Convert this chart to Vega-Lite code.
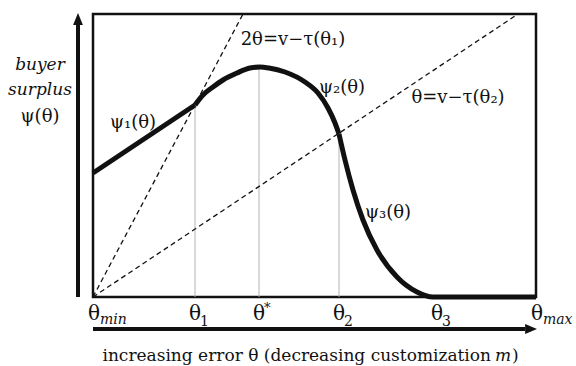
{
  "$schema": "https://vega.github.io/schema/vega-lite/v6.json",
  "width": 443,
  "height": 283,
  "autosize": {"type": "none"},
  "padding": {"left": 93, "top": 14, "right": 40, "bottom": 69},
  "background": "white",
  "config": {"view": {"stroke": "#111", "strokeWidth": 2.5}, "text": {"font": "DejaVu Serif", "color": "#111"}},
  "datasets": {
    "vlines": [
      {"name": "θ1", "x": 102, "y": 0, "y2": 192},
      {"name": "θ*", "x": 166, "y": 0, "y2": 230},
      {"name": "θ2", "x": 246, "y": 0, "y2": 163}
    ],
    "dashes": [
      {"name": "2θ=v−τ(θ1)", "x": 0, "y": 0, "x2": 150, "y2": 283},
      {"name": "θ=v−τ(θ2)", "x": 0, "y": 0, "x2": 425, "y2": 283}
    ],
    "curve": [
      {"seg": "ψ1", "x": 0, "y": 124},
      {"seg": "ψ1", "x": 102, "y": 192},
      {"seg": "ψ2", "x": 102, "y": 192},
      {"seg": "ψ2", "x": 110, "y": 202},
      {"seg": "ψ2", "x": 120, "y": 210},
      {"seg": "ψ2", "x": 130, "y": 217},
      {"seg": "ψ2", "x": 144, "y": 224},
      {"seg": "ψ2", "x": 157, "y": 229},
      {"seg": "ψ2", "x": 167, "y": 230},
      {"seg": "ψ2", "x": 176, "y": 229},
      {"seg": "ψ2", "x": 192, "y": 225},
      {"seg": "ψ2", "x": 212, "y": 215},
      {"seg": "ψ2", "x": 225, "y": 204},
      {"seg": "ψ2", "x": 235, "y": 189},
      {"seg": "ψ2", "x": 242, "y": 174},
      {"seg": "ψ2", "x": 246, "y": 163},
      {"seg": "ψ3", "x": 246, "y": 163},
      {"seg": "ψ3", "x": 252, "y": 137},
      {"seg": "ψ3", "x": 260, "y": 107},
      {"seg": "ψ3", "x": 270, "y": 77},
      {"seg": "ψ3", "x": 284, "y": 47},
      {"seg": "ψ3", "x": 304, "y": 20},
      {"seg": "ψ3", "x": 324, "y": 5},
      {"seg": "ψ3", "x": 340, "y": 0},
      {"seg": "ψ3", "x": 443, "y": 0}
    ],
    "shafts": [
      {"axis": "y", "x": -15, "y": 0, "x2": -15, "y2": 274},
      {"axis": "x", "x": 0, "y": -32, "x2": 432, "y2": -32}
    ],
    "heads": [
      {"dir": "up", "x": -15, "y": 277},
      {"dir": "right", "x": 437, "y": -32}
    ],
    "ticks": [
      {"base": "θ", "sub": "min", "kind": "it", "x": 1, "y": -23},
      {"base": "θ", "sub": "1", "kind": "num", "x": 102, "y": -23},
      {"base": "θ", "sub": "*", "kind": "sup", "x": 166, "y": -23},
      {"base": "θ", "sub": "2", "kind": "num", "x": 246, "y": -23},
      {"base": "θ", "sub": "3", "kind": "num", "x": 344, "y": -23},
      {"base": "θ", "sub": "max", "kind": "it", "x": 444, "y": -23}
    ],
    "labels": [
      {"text": "2θ=v−τ(θ₁)", "x": 200, "y": 252},
      {"text": "ψ₁(θ)", "x": 40, "y": 169},
      {"text": "ψ₂(θ)", "x": 249, "y": 204},
      {"text": "θ=v−τ(θ₂)", "x": 365, "y": 194},
      {"text": "ψ₃(θ)", "x": 295, "y": 79},
      {"text": "ψ(θ)", "x": -53, "y": 175}
    ],
    "italics": [
      {"text": "buyer", "x": -53, "y": 227},
      {"text": "surplus", "x": -53, "y": 202}
    ],
    "title": [
      {"text": "increasing error θ (decreasing customization", "m": "m", "close": ")", "x": 398, "y": -64}
    ]
  },
  "encoding": {
    "x": {"field": "x", "type": "quantitative", "scale": {"domain": [0, 443], "nice": false, "zero": false}, "axis": null},
    "y": {"field": "y", "type": "quantitative", "scale": {"domain": [0, 283], "nice": false, "zero": false}, "axis": null}
  },
  "layer": [
    {"data": {"name": "vlines"}, "mark": {"type": "rule", "color": "#b3b3b3", "strokeWidth": 1}, "encoding": {"y2": {"field": "y2"}}},
    {"data": {"name": "dashes"}, "mark": {"type": "rule", "color": "#111", "strokeWidth": 1.3, "strokeDash": [5, 3.5]}, "encoding": {"x2": {"field": "x2"}, "y2": {"field": "y2"}}},
    {"data": {"name": "curve"}, "mark": {"type": "line", "interpolate": "monotone", "color": "#111", "strokeWidth": 5, "strokeJoin": "round"}, "encoding": {"detail": {"field": "seg"}}},
    {"data": {"name": "shafts"}, "mark": {"type": "rule", "color": "#111", "strokeWidth": 4}, "encoding": {"x2": {"field": "x2"}, "y2": {"field": "y2"}}},
    {"data": {"name": "heads"}, "mark": {"type": "point", "filled": true, "color": "#111", "opacity": 1, "size": 196}, "encoding": {"shape": {"field": "dir", "type": "nominal", "scale": {"domain": ["up", "right"], "range": ["M0,-1L0.7,0.7L-0.7,0.7Z", "M1,0L-0.7,0.7L-0.7,-0.7Z"]}, "legend": null}}},
    {"data": {"name": "ticks"}, "mark": {"type": "text", "fontSize": 20, "align": "center", "baseline": "alphabetic"}, "encoding": {"text": {"field": "base"}}},
    {"data": {"name": "ticks"}, "transform": [{"filter": "datum.kind == 'num'"}], "mark": {"type": "text", "fontSize": 14, "align": "left", "baseline": "alphabetic", "dx": 5, "dy": 6}, "encoding": {"text": {"field": "sub"}}},
    {"data": {"name": "ticks"}, "transform": [{"filter": "datum.kind == 'it'"}], "mark": {"type": "text", "fontSize": 14, "fontStyle": "italic", "align": "left", "baseline": "alphabetic", "dx": 6, "dy": 4}, "encoding": {"text": {"field": "sub"}}},
    {"data": {"name": "ticks"}, "transform": [{"filter": "datum.kind == 'sup'"}], "mark": {"type": "text", "fontSize": 13, "align": "left", "baseline": "alphabetic", "dx": 5, "dy": -8}, "encoding": {"text": {"field": "sub"}}},
    {"data": {"name": "labels"}, "mark": {"type": "text", "fontSize": 18, "align": "center", "baseline": "alphabetic"}, "encoding": {"text": {"field": "text"}}},
    {"data": {"name": "italics"}, "mark": {"type": "text", "fontSize": 17, "fontStyle": "italic", "align": "center", "baseline": "alphabetic"}, "encoding": {"text": {"field": "text"}}},
    {"data": {"name": "title"}, "mark": {"type": "text", "fontSize": 17, "align": "right", "baseline": "alphabetic"}, "encoding": {"text": {"field": "text"}}},
    {"data": {"name": "title"}, "mark": {"type": "text", "fontSize": 17, "fontStyle": "italic", "align": "left", "baseline": "alphabetic", "dx": 4}, "encoding": {"text": {"field": "m"}}},
    {"data": {"name": "title"}, "mark": {"type": "text", "fontSize": 17, "align": "left", "baseline": "alphabetic", "dx": 21}, "encoding": {"text": {"field": "close"}}}
  ]
}
